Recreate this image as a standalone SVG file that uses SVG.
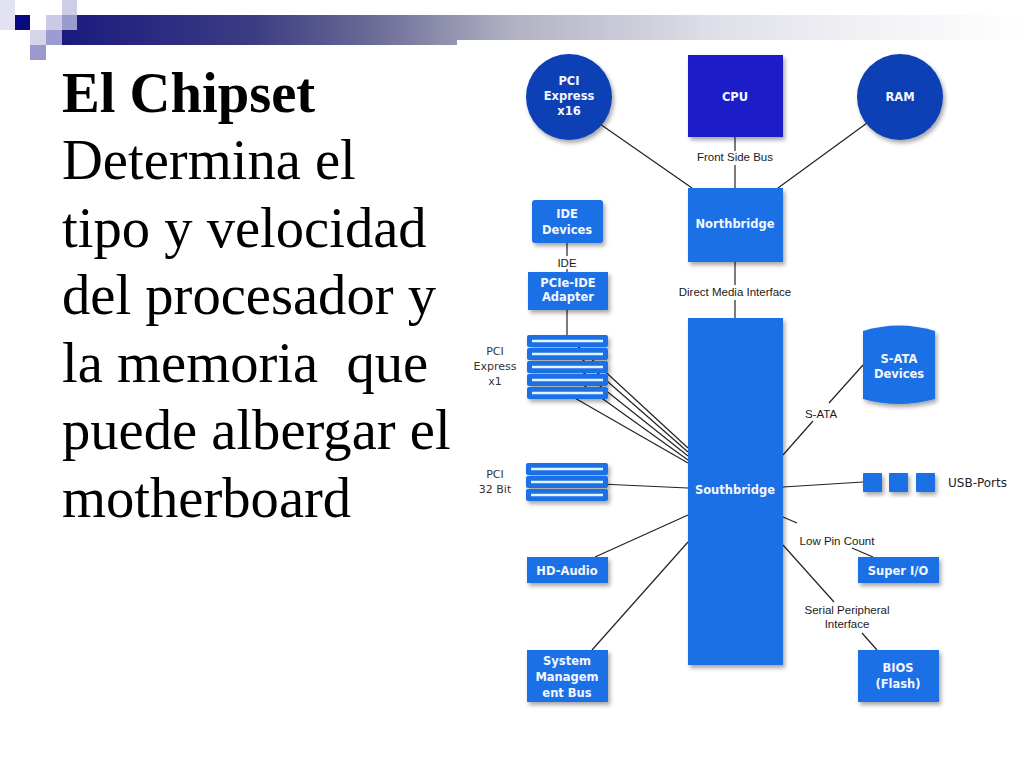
<svg xmlns="http://www.w3.org/2000/svg" width="1024" height="768" viewBox="0 0 1024 768">
<style>
.title{font-family:"Liberation Serif","Times New Roman",serif;font-size:56.6px;fill:#000}
.nt{font-family:"DejaVu Sans",Verdana,sans-serif;font-size:11.5px;font-weight:bold;fill:#f2f7ff;text-anchor:middle}
.lb{font-family:"Liberation Sans",Arial,sans-serif;font-size:11.5px;fill:#1a1a1a;text-anchor:middle}
.lv{font-family:"DejaVu Sans",Verdana,sans-serif;font-size:11px;fill:#333;text-anchor:middle}
.box{fill:#1b6fe6}
.slot{fill:#1b6fe6}
.sl{stroke:#e2f4ff;stroke-width:2.5}
.ln{stroke:#222;stroke-width:1.2;fill:none}
</style>
<defs>
<linearGradient id="bar" gradientUnits="userSpaceOnUse" x1="62" y1="0" x2="1024" y2="0">
<stop offset="0" stop-color="#1a1a7e"/>
<stop offset="0.2" stop-color="#3c3c84"/>
<stop offset="0.32" stop-color="#6a6a96"/>
<stop offset="0.47" stop-color="#b2b2c4"/>
<stop offset="0.67" stop-color="#dedee8"/>
<stop offset="0.82" stop-color="#f0f0f4"/>
<stop offset="1" stop-color="#ffffff"/>
</linearGradient>
<filter id="sh" x="-20%" y="-20%" width="150%" height="150%">
<feDropShadow dx="2" dy="3" stdDeviation="2" flood-color="#000" flood-opacity="0.35"/>
</filter>
</defs>
<rect width="1024" height="768" fill="#fff"/>
<g id="decor">
<rect x="62" y="15" width="962" height="25" fill="url(#bar)"/>
<rect x="62" y="40" width="395" height="5" fill="url(#bar)"/>
<rect x="0" y="0" width="15" height="30" fill="#e2e2f2"/>
<rect x="15" y="15" width="15" height="15" fill="#0a0a80"/>
<rect x="46" y="15" width="16" height="15" fill="#cacae4"/>
<rect x="62" y="15" width="15" height="15" fill="#9a9acc"/>
<rect x="62" y="0" width="15" height="15" fill="#cdcde6"/>
<rect x="30" y="30" width="16" height="15" fill="#d4d4ea"/>
<rect x="46" y="30" width="16" height="15" fill="#9c9cd0"/>
<rect x="30" y="45" width="16" height="15" fill="#9a9acc"/>
</g>
<g id="text">
<text class="title" x="62" y="112" font-weight="bold">El Chipset</text>
<text class="title" x="62" y="179">Determina el</text>
<text class="title" x="62" y="247">tipo y velocidad</text>
<text class="title" x="62" y="314">del procesador y</text>
<text class="title" x="62" y="382" xml:space="preserve">la memoria  que</text>
<text class="title" x="62" y="449">puede albergar el</text>
<text class="title" x="62" y="517">motherboard</text>
</g>
<g id="connectors">
<line class="ln" x1="600" y1="124" x2="692" y2="188"/>
<line class="ln" x1="867" y1="123" x2="778" y2="188"/>
<line class="ln" x1="735" y1="137" x2="735" y2="151"/>
<line class="ln" x1="735" y1="165" x2="735" y2="188"/>
<line class="ln" x1="735" y1="262" x2="735" y2="285"/>
<line class="ln" x1="735" y1="300" x2="735" y2="318"/>
<line class="ln" x1="567" y1="243" x2="567" y2="256"/>
<line class="ln" x1="567" y1="269" x2="567" y2="272"/>
<line class="ln" x1="567" y1="310" x2="567" y2="335"/>
<line class="ln" x1="572" y1="341" x2="688" y2="448"/>
<line class="ln" x1="575" y1="353" x2="688" y2="452"/>
<line class="ln" x1="575" y1="366" x2="688" y2="456"/>
<line class="ln" x1="575" y1="379" x2="688" y2="460"/>
<line class="ln" x1="566" y1="393" x2="688" y2="463"/>
<line class="ln" x1="600" y1="484" x2="688" y2="488"/>
<line class="ln" x1="595" y1="557" x2="688" y2="515"/>
<line class="ln" x1="592" y1="650" x2="688" y2="542"/>
<line class="ln" x1="783" y1="455" x2="813" y2="421"/>
<line class="ln" x1="829" y1="403" x2="863" y2="365"/>
<line class="ln" x1="783" y1="487" x2="863" y2="482"/>
<line class="ln" x1="783" y1="517" x2="797" y2="523"/>
<line class="ln" x1="852" y1="548" x2="873" y2="557"/>
<line class="ln" x1="783" y1="545" x2="834" y2="602"/>
<line class="ln" x1="862" y1="633" x2="877" y2="650"/>
<text class="lb" x="735" y="161">Front Side Bus</text>
<text class="lb" x="735" y="296">Direct Media Interface</text>
<text class="lb" x="567" y="267">IDE</text>
<text class="lb" x="821" y="418">S-ATA</text>
<text class="lb" x="837" y="545">Low Pin Count</text>
<text class="lb" x="847" y="614">Serial Peripheral</text>
<text class="lb" x="847" y="628">Interface</text>
</g>
<g id="pcie16">
<circle cx="569" cy="97" r="43" fill="#0b3fb5" filter="url(#sh)"/>
<text class="nt" x="569" y="85">PCI</text>
<text class="nt" x="569" y="100">Express</text>
<text class="nt" x="569" y="115">x16</text>
</g>
<g id="cpu">
<rect x="688" y="55" width="95" height="82" fill="#1d1dc9" filter="url(#sh)"/>
<text class="nt" x="735" y="101">CPU</text>
</g>
<g id="ram">
<circle cx="900" cy="97" r="43" fill="#0b3fb5" filter="url(#sh)"/>
<text class="nt" x="900" y="101">RAM</text>
</g>
<g id="northbridge">
<rect class="box" x="688" y="188" width="95" height="74" filter="url(#sh)"/>
<text class="nt" x="735" y="228">Northbridge</text>
</g>
<g id="southbridge">
<rect class="box" x="688" y="318" width="95" height="347" filter="url(#sh)"/>
<text class="nt" x="735" y="494">Southbridge</text>
</g>
<g id="ide-devices">
<rect class="box" x="532" y="200" width="71" height="43" rx="3" filter="url(#sh)"/>
<text class="nt" x="567" y="218">IDE</text>
<text class="nt" x="567" y="234">Devices</text>
</g>
<g id="pcie-ide">
<rect class="box" x="528" y="272" width="80" height="38" filter="url(#sh)"/>
<text class="nt" x="568" y="287">PCIe-IDE</text>
<text class="nt" x="568" y="301">Adapter</text>
</g>
<g id="pcie-x1">
<g filter="url(#sh)">
<rect class="slot" x="527" y="335" width="81" height="12" rx="2"/>
<rect class="slot" x="527" y="348" width="81" height="12" rx="2"/>
<rect class="slot" x="527" y="361" width="81" height="12" rx="2"/>
<rect class="slot" x="527" y="374" width="81" height="12" rx="2"/>
<rect class="slot" x="527" y="387" width="81" height="12" rx="2"/>
</g>
<line class="sl" x1="532" y1="341" x2="603" y2="341"/>
<line class="sl" x1="532" y1="354" x2="603" y2="354"/>
<line class="sl" x1="532" y1="367" x2="603" y2="367"/>
<line class="sl" x1="532" y1="380" x2="603" y2="380"/>
<line class="sl" x1="532" y1="393" x2="603" y2="393"/>
<text class="lv" x="495" y="355">PCI</text>
<text class="lv" x="495" y="370">Express</text>
<text class="lv" x="495" y="385">x1</text>
</g>
<g id="pci32">
<g filter="url(#sh)">
<rect class="slot" x="526" y="463" width="82" height="12" rx="2"/>
<rect class="slot" x="526" y="476" width="82" height="12" rx="2"/>
<rect class="slot" x="526" y="489" width="82" height="12" rx="2"/>
</g>
<line class="sl" x1="531" y1="469" x2="603" y2="469"/>
<line class="sl" x1="531" y1="482" x2="603" y2="482"/>
<line class="sl" x1="531" y1="495" x2="603" y2="495"/>
<text class="lv" x="495" y="478">PCI</text>
<text class="lv" x="495" y="493">32 Bit</text>
</g>
<g id="hd-audio">
<rect class="box" x="527" y="557" width="81" height="26" filter="url(#sh)"/>
<text class="nt" x="567" y="575">HD-Audio</text>
</g>
<g id="smbus">
<rect class="box" x="527" y="650" width="81" height="52" filter="url(#sh)"/>
<text class="nt" x="567" y="665">System</text>
<text class="nt" x="567" y="681">Managem</text>
<text class="nt" x="567" y="697">ent Bus</text>
</g>
<g id="sata">
<path class="box" d="M863,331 Q899,320 935,331 V399 Q899,409 863,399 Z" filter="url(#sh)"/>
<text class="nt" x="899" y="363">S-ATA</text>
<text class="nt" x="899" y="378">Devices</text>
</g>
<g id="usb">
<g filter="url(#sh)">
<rect class="box" x="863" y="473" width="19" height="19" rx="1"/>
<rect class="box" x="889" y="473" width="19" height="19" rx="1"/>
<rect class="box" x="916" y="473" width="19" height="19" rx="1"/>
</g>
<text x="948" y="487" font-family="DejaVu Sans, Verdana, sans-serif" font-size="12" fill="#222">USB-Ports</text>
</g>
<g id="super-io">
<rect class="box" x="858" y="557" width="81" height="26" filter="url(#sh)"/>
<text class="nt" x="898" y="575">Super I/O</text>
</g>
<g id="bios">
<rect class="box" x="858" y="650" width="81" height="52" filter="url(#sh)"/>
<text class="nt" x="898" y="672">BIOS</text>
<text class="nt" x="898" y="688">(Flash)</text>
</g>
</svg>
